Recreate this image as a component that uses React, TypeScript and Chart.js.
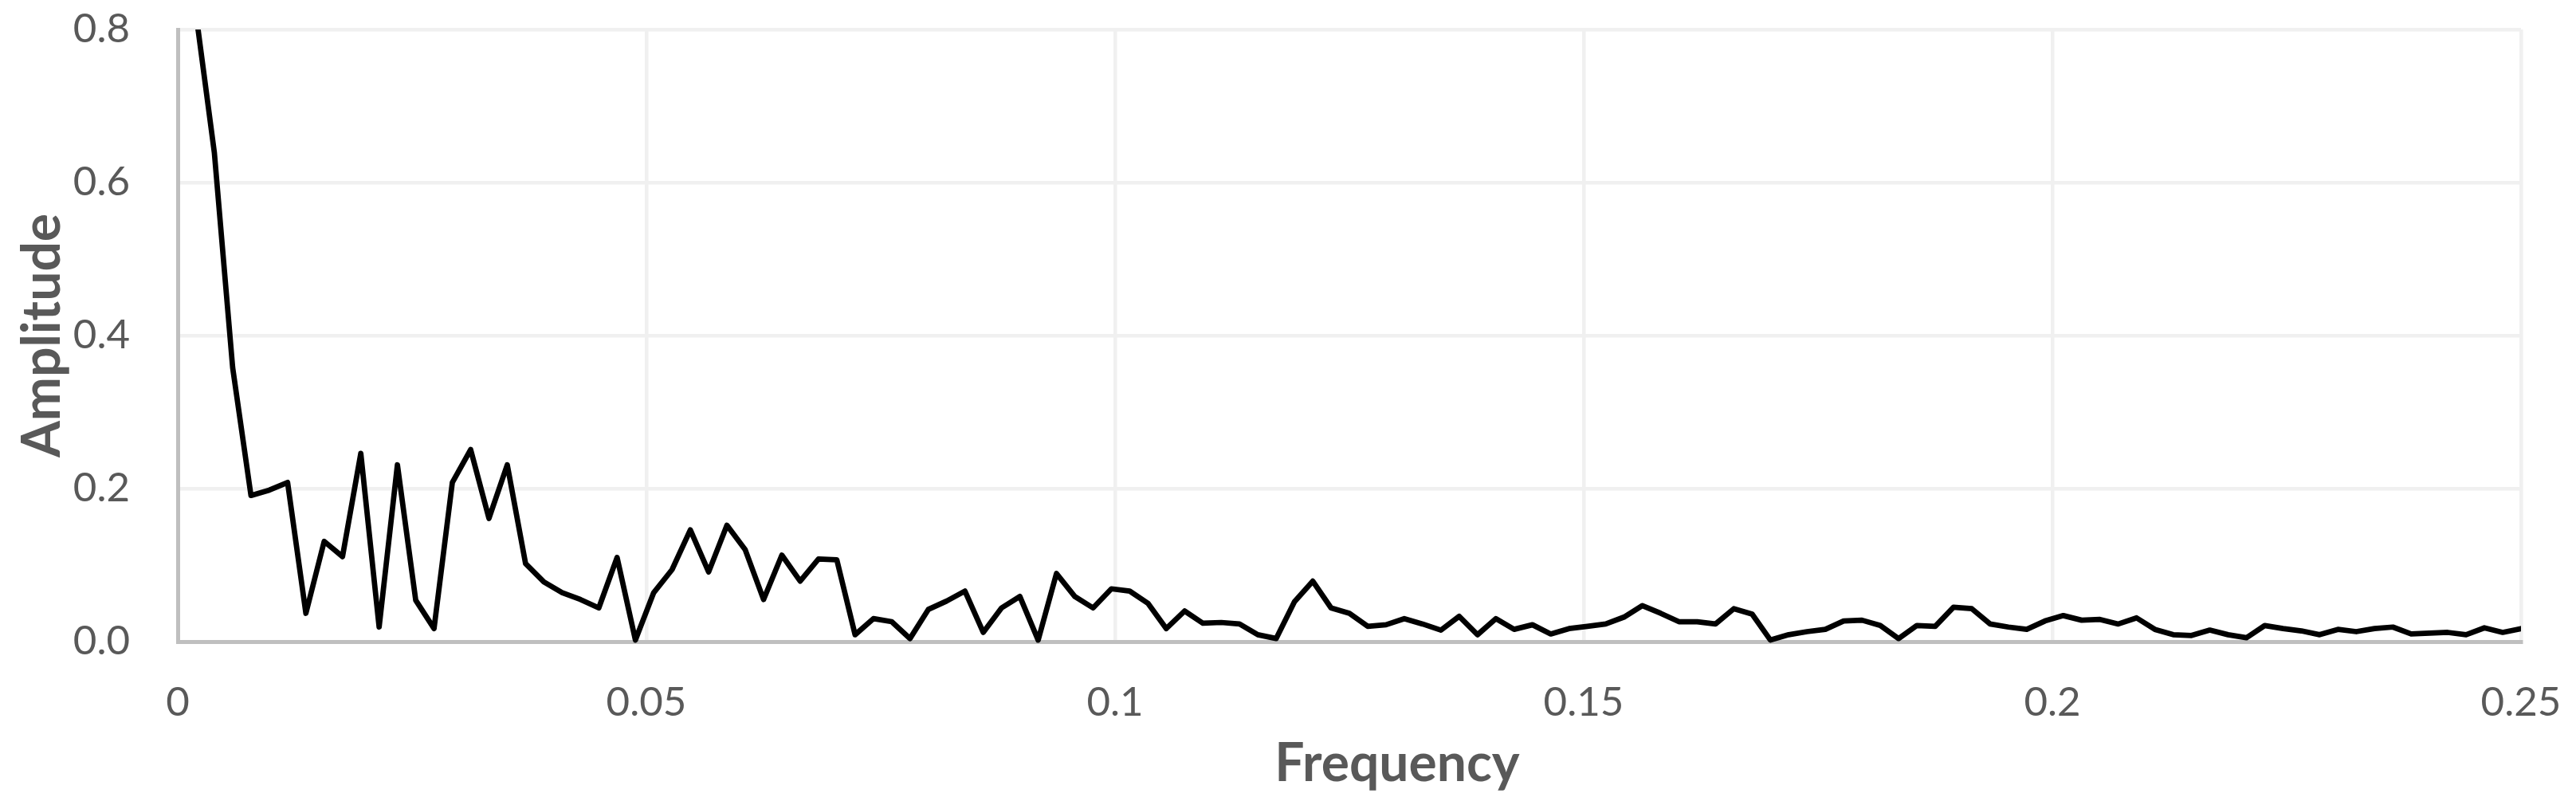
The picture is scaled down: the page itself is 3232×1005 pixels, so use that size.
import React, { useEffect, useRef } from 'react';
import { Chart, registerables } from 'chart.js';

Chart.register(...registerables);

// Spectrum sampled every 1/512 in frequency (index k -> k/512)
const FREQUENCY_STEP = 1 / 512;

const AMPLITUDE = [
  1.5, 0.82, 0.639, 0.358, 0.191, 0.198, 0.208, 0.037, 0.131, 0.111,
  0.246, 0.019, 0.231, 0.054, 0.017, 0.208, 0.251, 0.161, 0.231, 0.102,
  0.078, 0.064, 0.055, 0.044, 0.11, 0.002, 0.064, 0.094, 0.146, 0.091,
  0.152, 0.12, 0.055, 0.113, 0.079, 0.108, 0.107, 0.009, 0.03, 0.026,
  0.004, 0.042, 0.053, 0.066, 0.012, 0.044, 0.059, 0.002, 0.089, 0.059,
  0.044, 0.069, 0.066, 0.05, 0.017, 0.04, 0.024, 0.025, 0.023, 0.009,
  0.004, 0.052, 0.079, 0.044, 0.037, 0.02, 0.022, 0.03, 0.023, 0.015,
  0.033, 0.009, 0.03, 0.016, 0.022, 0.01, 0.017, 0.02, 0.023, 0.032,
  0.047, 0.037, 0.026, 0.026, 0.023, 0.043, 0.036, 0.002, 0.009, 0.013,
  0.016, 0.027, 0.028, 0.021, 0.004, 0.021, 0.02, 0.045, 0.043, 0.023,
  0.019, 0.016, 0.027, 0.034, 0.028, 0.029, 0.023, 0.031, 0.016, 0.009,
  0.008, 0.015, 0.009, 0.005, 0.021, 0.017, 0.014, 0.009, 0.016, 0.013,
  0.017, 0.019, 0.01, 0.011, 0.012, 0.009, 0.018, 0.012, 0.017,
];

const X_TICK_LABELS = ['0', '0.05', '0.1', '0.15', '0.2', '0.25'];
const Y_TICK_LABELS = ['0.0', '0.2', '0.4', '0.6', '0.8'];
const X_TITLE = 'Frequency';
const Y_TITLE = 'Amplitude';

const TEXT_COLOR = '#595959';
const GRID_COLOR = '#F0F0F0';
const AXIS_COLOR = '#BFBFBF';

export default function App() {
  const canvasRef = useRef<HTMLCanvasElement>(null);

  useEffect(() => {
    document.body.style.margin = '0';
    document.body.style.overflow = 'hidden';
    const canvas = canvasRef.current;
    if (!canvas) return;

    const points = AMPLITUDE.map((a, i) => ({ x: i * FREQUENCY_STEP, y: a }));

    const xTitlePlugin = {
      id: 'xTitlePlugin',
      afterDraw(chart: any) {
        const { ctx, chartArea } = chart;
        ctx.save();
        ctx.font = 'bold 66px Lato';
        ctx.fillStyle = TEXT_COLOR;
        ctx.textAlign = 'center';
        ctx.textBaseline = 'alphabetic';
        const cx = chartArea.left + (chartArea.right - chartArea.left) * 0.5204;
        ctx.fillText(X_TITLE, cx, chartArea.bottom + 175);
        ctx.restore();
      },
    };

    const chart = new Chart(canvas, {
      type: 'line',
      data: {
        datasets: [
          {
            label: Y_TITLE,
            data: points,
            borderColor: '#000000',
            borderWidth: 6.75,
            borderJoinStyle: 'round',
            borderCapStyle: 'round',
            pointRadius: 0,
            tension: 0,
            fill: false,
            clip: { left: 0, top: 0, right: 0, bottom: 4 } as any,
          },
        ],
      },
      options: {
        responsive: false,
        animation: false,
        devicePixelRatio: 1,
        layout: { padding: { top: 37, right: 69, bottom: 0, left: 0 } },
        plugins: {
          legend: { display: false },
          tooltip: { enabled: false },
          title: { display: false },
        },
        scales: {
          x: {
            type: 'linear',
            min: 0,
            max: 0.25,
            afterFit: (scale: any) => {
              scale.height = 200;
              scale.paddingLeft = 0;
              scale.paddingRight = 0;
            },
            grid: {
              drawTicks: false,
              lineWidth: 4.5,
              color: (ctx: any) => (ctx.tick && ctx.tick.value === 0 ? AXIS_COLOR : GRID_COLOR),
            },
            border: { display: true, color: AXIS_COLOR, width: 5 },
            ticks: {
              stepSize: 0.05,
              padding: 46,
              color: TEXT_COLOR,
              font: { family: 'Lato', size: 51 },
              maxRotation: 0,
              autoSkip: false,
              callback: (_v: any, i: number) => X_TICK_LABELS[i] ?? '',
            },
            title: { display: false },
          },
          y: {
            type: 'linear',
            min: 0,
            max: 0.8,
            afterFit: (scale: any) => {
              scale.width = 223;
              scale.paddingTop = 0;
              scale.paddingBottom = 0;
            },
            grid: {
              drawTicks: false,
              lineWidth: 4.5,
              color: (ctx: any) => (ctx.tick && ctx.tick.value === 0 ? AXIS_COLOR : GRID_COLOR),
            },
            border: { display: true, color: AXIS_COLOR, width: 5 },
            ticks: {
              stepSize: 0.2,
              padding: 60,
              color: TEXT_COLOR,
              font: { family: 'Lato', size: 51 },
              callback: (_v: any, i: number) => Y_TICK_LABELS[i] ?? '',
            },
            title: {
              display: true,
              text: Y_TITLE,
              color: TEXT_COLOR,
              font: { family: 'Lato', size: 66, weight: 'bold' },
              padding: { top: 14, bottom: 0 },
            },
          },
        },
      },
      plugins: [xTitlePlugin],
    });

    return () => {
      chart.destroy();
    };
  }, []);

  return (
    <div style={{ width: 3232, height: 1005 }}>
      <canvas ref={canvasRef} width={3232} height={1005} style={{ display: 'block' }} />
    </div>
  );
}
